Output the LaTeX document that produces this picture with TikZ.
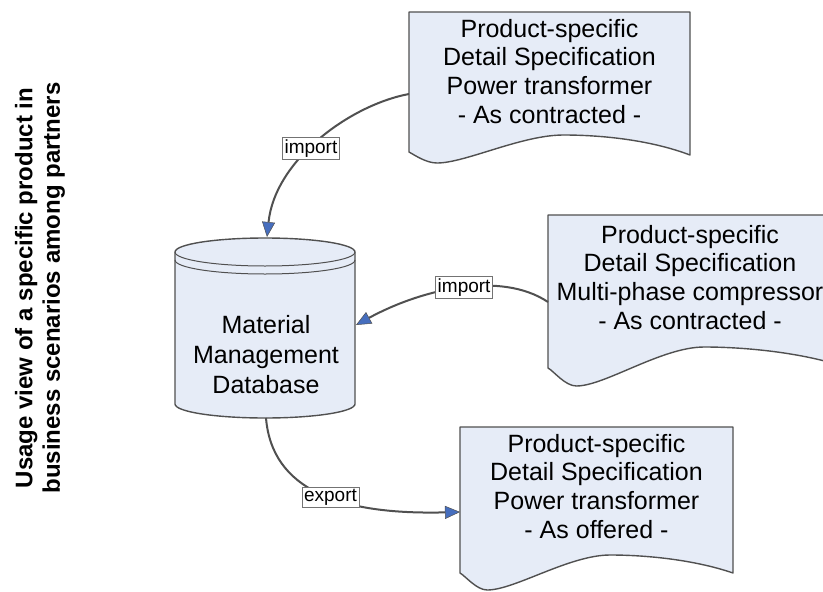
\documentclass[tikz,border=0pt]{standalone}
\usepackage{fontspec}
\setmainfont{Liberation Sans}
\usetikzlibrary{arrows.meta}
\definecolor{docfill}{RGB}{230,236,247}
\definecolor{edgegray}{RGB}{80,80,80}
\definecolor{arrowblue}{RGB}{70,110,190}
\tikzset{
  docshape/.style={fill=docfill, draw=edgegray, line width=1.4pt, line join=round},
  doctext/.style={anchor=north, align=center, inner sep=0pt, font=\fontsize{25}{28.7}\selectfont},
  dbtext/.style={anchor=north, align=center, inner sep=0pt, font=\fontsize{25}{30}\selectfont},
  lbl/.style={fill=white, draw=edgegray!80, line width=0.6pt, inner sep=2pt, font=\fontsize{19}{22}\selectfont},
  conn/.style={draw=edgegray, line width=2pt, -{Triangle[length=15pt,width=13pt,fill=arrowblue,line width=0.5pt]}},
}
\newcommand\mydoc[7]{%
  \pgfmathsetmacro\dW{#2-#1}%
  \pgfmathsetmacro\dxc{#1+0.55*\dW}%
  \pgfmathsetmacro\dxt{#1+0.1*\dW}%
  \filldraw[docshape] (#1,#3) -- (#2,#3) -- (#2,#4)
    .. controls ({#2-0.15*\dW},{#5+4}) and ({\dxc+0.12*\dW},#5) .. (\dxc,#5)
    .. controls ({\dxc-0.15*\dW},#5) and ({\dxt+0.1*\dW},#6) .. (\dxt,#6)
    .. controls ({\dxt-0.04*\dW},#6) and ({#1+0.02*\dW},{#7+3}) .. (#1,#7) -- cycle;}
\begin{document}
\begin{tikzpicture}[x=1pt,y=-1pt]
\useasboundingbox (0,0) rectangle (823,592);
\clip (0,0) rectangle (823,592);
\fill[white] (0,0) rectangle (823,592);

% documents
\mydoc{409}{690}{12}{155}{135}{163}{152}
\mydoc{548}{832}{215}{363}{347}{386}{368}
\mydoc{460}{733}{427}{573}{555}{590}{573}

\node[doctext] (d1) at (549.5,18.7) {Product-specific\\Detail Specification\\Power transformer\\- As contracted -};
\node[doctext] (d2) at (690,224.7) {Product-specific\\Detail Specification\\Multi-phase compressor\\- As contracted -};
\node[doctext] (d3) at (596.5,433.7) {Product-specific\\Detail Specification\\Power transformer\\- As offered -};

% database cylinder
\filldraw[docshape] (175,252) -- (175,404) arc[start angle=180, end angle=0, x radius=90, y radius=14]
  -- (355,252) arc[start angle=0, end angle=-180, x radius=90, y radius=14] -- cycle;
\draw[edgegray, line width=1pt] (175,252) arc[start angle=180, end angle=0, x radius=90, y radius=14];
\draw[edgegray, line width=1pt] (175,260) arc[start angle=180, end angle=0, x radius=90, y radius=14];
\node[dbtext] (db) at (266,315) {Material\\Management\\Database};

% connector end points
\coordinate (d1w) at (409,94);
\coordinate (d2w) at (548,302);
\coordinate (d3w) at (460,512);
\coordinate (dbn) at (267,237);
\coordinate (dbe) at (356,325);
\coordinate (dbs) at (266,418);

% connectors
\draw[conn] (d1w) .. controls (350,105) and (275,160) .. node[lbl, pos=0.55] (l1) {import} (dbn);
\draw[conn] (d2w) .. controls (500,270) and (420,290) .. node[lbl, pos=0.47] (l2) {import} (dbe);
\draw[conn] (dbs) .. controls (272,490) and (340,515) .. node[lbl, pos=0.55] (l3) {export} (d3w);

% vertical title
\node[rotate=90, align=center, font=\bfseries\fontsize{24}{27.5}\selectfont] (title) at (40,288)
  {Usage view of a specific product in\\business scenarios among partners};
\end{tikzpicture}
\end{document}
